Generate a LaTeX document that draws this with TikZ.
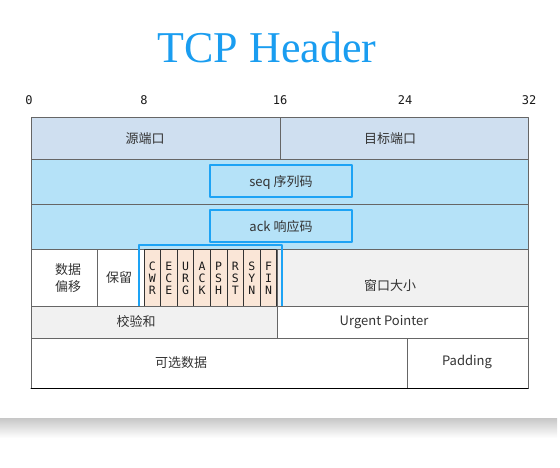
\documentclass[tikz,border=0pt]{standalone}
\usepackage{fontspec}
\setmainfont{Liberation Serif}
\newfontfamily\cjk{Noto Sans CJK SC}
\newfontfamily\monofont{DejaVu Sans Mono}
\definecolor{titleblue}{HTML}{1A9DF0}
\definecolor{portfill}{HTML}{CFDFF0}
\definecolor{seqfill}{HTML}{B5E2F8}
\definecolor{boxblue}{HTML}{1DA3F5}
\definecolor{flagfill}{HTML}{FAE6D7}
\definecolor{greyfill}{HTML}{F1F1F1}
\tikzset{
	cellbox/.style={draw=black!60, line width=0.8pt},
	hilite/.style={draw=boxblue, line width=1.3pt},
	txt/.style={font=\cjk\fontsize{13}{17}\selectfont, text=black!80, inner sep=0pt, align=center},
	ruler/.style={font=\monofont\fontsize{12}{13}\selectfont, text=black!90, inner sep=0pt},
	flagtxt/.style={font=\monofont\fontsize{11.5}{12}\selectfont, text=black!90, inner sep=0pt, align=center}
}
\begin{document}
\begin{tikzpicture}[x=1pt, y=-1pt, line join=round, line cap=round]
	\useasboundingbox (0,0) rectangle (560,467);
	\def\xl{31} \def\xr{528} % table edges
	% card shadow
	\shade[top color=black!22, bottom color=white] (0,418) rectangle (557,438);
	\node[anchor=base, font=\fontsize{44}{48}\selectfont, text=titleblue, inner sep=0pt] (title) at (267,62) {TCP Header};
	% bit ruler
	\foreach \b/\x in {0/29,8/144,16/280,24/405,32/529}
		\node[ruler] (r\b) at (\x,100) {\b};
	% source / destination port
	\draw[cellbox, fill=portfill] (\xl,117) rectangle (280,159);
	\draw[cellbox, fill=portfill] (280,117) rectangle (\xr,159);
	\node[txt] (src) at (145,139) {源端口};
	\node[txt] (dst) at (390,139) {目标端口};
	% seq / ack
	\draw[cellbox, fill=seqfill] (\xl,159) rectangle (\xr,204);
	\draw[cellbox, fill=seqfill] (\xl,204) rectangle (\xr,249);
	\draw[hilite] (210,165) rectangle (352,197);
	\draw[hilite] (210,210) rectangle (352,242);
	\node[txt] (seq) at (281,182) {seq 序列码};
	\node[txt] (ack) at (281,227) {ack 响应码};
	% offset, reserved, flags, window
	\draw[cellbox, fill=white] (\xl,249) rectangle (97,306);
	\draw[cellbox, fill=white] (97,249) rectangle (144,306);
	\draw[cellbox, fill=greyfill] (277,249) rectangle (\xr,306);
	\node[txt] (off) at (68,278) {数据\\偏移};
	\node[txt] (rsv) at (119,278) {保留};
	\node[txt] (win) at (390,286) {窗口大小};
	\foreach \p/\q/\r [count=\i from 0, evaluate=\i as \fx using 144+16.6*\i] in
		{C/W/R,E/C/E,U/R/G,A/C/K,P/S/H,R/S/T,S/Y/N,F/I/N}{
		\draw[draw=black!80, line width=0.7pt, fill=flagfill] (\fx,249) rectangle (\fx+16.6,306);
		\node[flagtxt] (f\i) at (\fx+8.3,278) {\p\\\q\\\r};
	}
	\draw[hilite] (139,245) rectangle (282,310);
	% checksum / urgent pointer
	\draw[cellbox, fill=greyfill] (\xl,306) rectangle (277,338);
	\draw[cellbox, fill=white] (277,306) rectangle (\xr,338);
	\node[txt] (chk) at (136,322) {校验和};
	\node[txt] (urg) at (384,322) {Urgent Pointer};
	% options / padding
	\draw[cellbox] (\xl,338) rectangle (407,388);
	\draw[cellbox] (407,338) rectangle (\xr,388);
	\draw[black, line width=1pt] (\xl,388) -- (\xr,388);
	\node[txt] (opt) at (181,363) {可选数据};
	\node[txt] (pad) at (467,362) {Padding};
\end{tikzpicture}
\end{document}
